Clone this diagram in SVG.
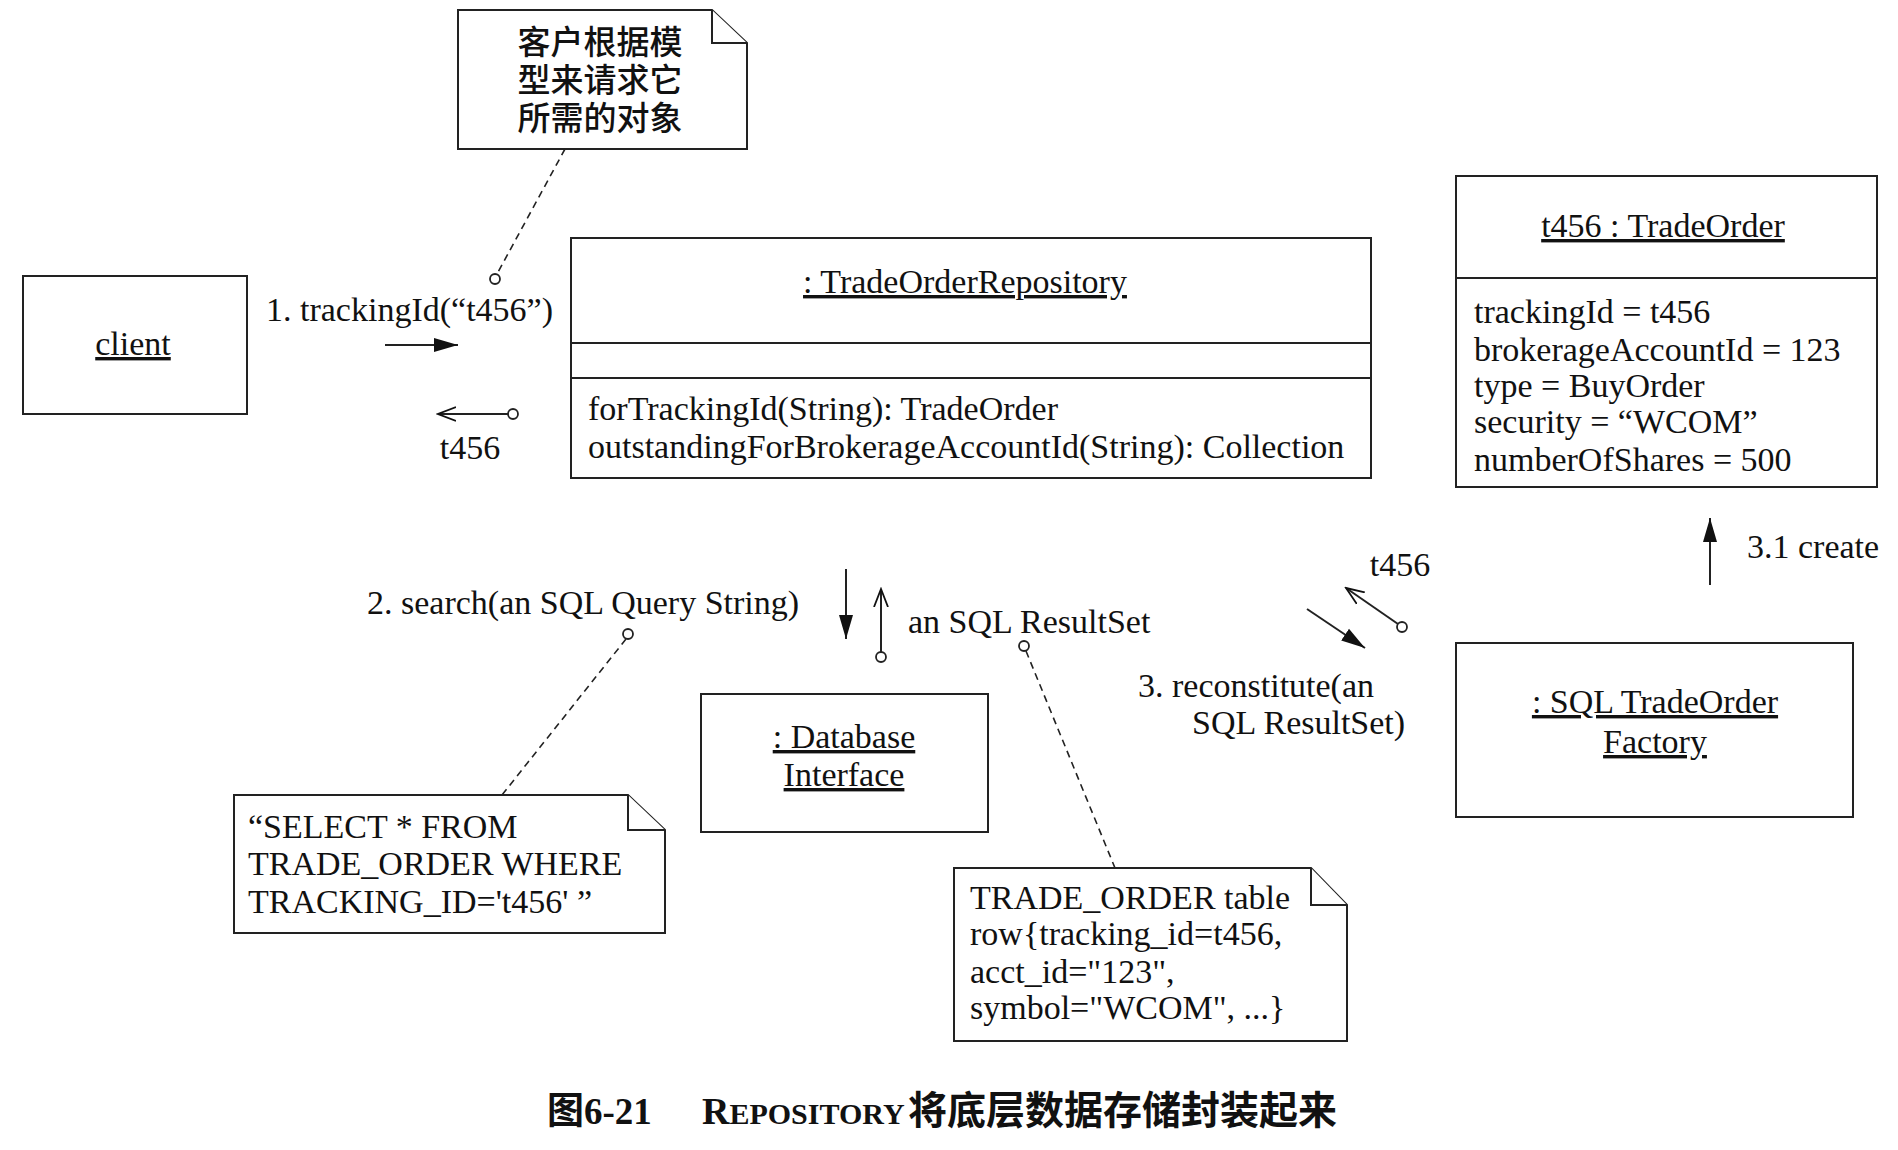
<svg xmlns="http://www.w3.org/2000/svg" width="1898" height="1150" viewBox="0 0 1898 1150">
<style>
 .box{fill:#fff;stroke:#222;stroke-width:2}
 .note{fill:#fff;stroke:#222;stroke-width:2;stroke-linejoin:miter}
 .t{font-family:"Liberation Serif","Noto Sans CJK SC",serif;font-size:34px;fill:#111}
 .c{text-anchor:middle}
 .u{text-decoration:underline}
 .cjk{font-family:"Noto Sans CJK SC",sans-serif;font-size:33px;font-weight:500;fill:#111;text-anchor:middle}
 .conn{stroke:#222;stroke-width:2;fill:none}
 .dash{stroke:#222;stroke-width:1.6;fill:none;stroke-dasharray:7 5}
 .pin{fill:#fff;stroke:#222;stroke-width:1.8}
 .cap{font-family:"Liberation Serif","Noto Sans CJK SC",serif;font-weight:bold;fill:#111}
</style>
<defs>
 <marker id="filled" markerUnits="userSpaceOnUse" markerWidth="26" markerHeight="18" refX="24" refY="9" orient="auto"><path d="M0,2 L24,9 L0,16 Z" fill="#111"/></marker>
 <marker id="open" markerUnits="userSpaceOnUse" markerWidth="20" markerHeight="18" refX="18" refY="9" orient="auto"><path d="M0,2 L18,9 L0,16" fill="none" stroke="#111" stroke-width="1.8"/></marker>
</defs>

<g id="note-client">
 <path class="note" d="M458,10 L712,10 L747,43 L747,149 L458,149 Z"/>
 <path class="note" d="M712,10 L712,43 L747,43" fill="none"/>
 <text class="cjk" x="600" y="54">客户根据模<tspan x="600" dy="38">型来请求它</tspan><tspan x="600" dy="38">所需的对象</tspan></text>
</g>

<g id="client">
 <rect class="box" x="23" y="276" width="224" height="138"/>
 <text class="t c u" x="133" y="355">client</text>
</g>

<g id="repository">
 <rect class="box" x="571" y="238" width="800" height="240"/>
 <line class="box" x1="571" y1="343" x2="1371" y2="343"/>
 <line class="box" x1="571" y1="378" x2="1371" y2="378"/>
 <text class="t c u" x="965" y="293">: TradeOrderRepository</text>
 <text class="t" x="588" y="420">forTrackingId(String): TradeOrder</text>
 <text class="t" x="588" y="458">outstandingForBrokerageAccountId(String): Collection</text>
</g>

<g id="tradeorder">
 <rect class="box" x="1456" y="176" width="421" height="311"/>
 <line class="box" x1="1456" y1="278" x2="1877" y2="278"/>
 <text class="t c u" x="1663" y="237">t456 : TradeOrder</text>
 <text class="t" x="1474" y="323">trackingId = t456</text>
 <text class="t" x="1474" y="361">brokerageAccountId = 123</text>
 <text class="t" x="1474" y="397">type = BuyOrder</text>
 <text class="t" x="1474" y="433">security = “WCOM”</text>
 <text class="t" x="1474" y="471">numberOfShares = 500</text>
</g>

<g id="factory">
 <rect class="box" x="1456" y="643" width="397" height="174"/>
 <text class="t c u" x="1655" y="713">: SQL TradeOrder </text>
 <text class="t c u" x="1655" y="753">Factory</text>
</g>

<g id="database">
 <rect class="box" x="701" y="694" width="287" height="138"/>
 <text class="t c u" x="844" y="748">: Database</text>
 <text class="t c u" x="844" y="786">Interface</text>
</g>

<g id="note-query">
 <path class="note" d="M234,795 L628,795 L665,830 L665,933 L234,933 Z"/>
 <path class="note" d="M628,795 L628,830 L665,830" fill="none"/>
 <text class="t" x="248" y="838">“SELECT * FROM</text>
 <text class="t" x="248" y="875">TRADE_ORDER WHERE</text>
 <text class="t" x="248" y="913">TRACKING_ID='t456' ”</text>
</g>

<g id="note-resultset">
 <path class="note" d="M954,868 L1311,868 L1347,905 L1347,1041 L954,1041 Z"/>
 <path class="note" d="M1311,868 L1311,905 L1347,905" fill="none"/>
 <text class="t" x="970" y="909">TRADE_ORDER table</text>
 <text class="t" x="970" y="945">row{tracking_id=t456,</text>
 <text class="t" x="970" y="983">acct_id="123",</text>
 <text class="t" x="970" y="1019">symbol="WCOM", ...}</text>
</g>

<g id="connectors">
 <line class="conn" x1="385" y1="345" x2="458" y2="345" marker-end="url(#filled)"/>
 <text class="t" x="266" y="321">1. trackingId(“t456”)</text>
 <line class="conn" x1="508" y1="414" x2="438" y2="414" marker-end="url(#open)"/>
 <circle class="pin" cx="513" cy="414" r="5"/>
 <text class="t c" x="470" y="459">t456</text>

 <line class="dash" x1="565" y1="149" x2="497" y2="274"/>
 <circle class="pin" cx="495" cy="279" r="5"/>

 <line class="conn" x1="846" y1="569" x2="846" y2="639" marker-end="url(#filled)"/>
 <text class="t" x="367" y="614">2. search(an SQL Query String)</text>
 <line class="conn" x1="881" y1="652" x2="881" y2="589" marker-end="url(#open)"/>
 <circle class="pin" cx="881" cy="657" r="5"/>
 <text class="t" x="908" y="633">an SQL ResultSet</text>

 <circle class="pin" cx="628" cy="634" r="5"/>
 <line class="dash" x1="626" y1="639" x2="502" y2="795"/>
 <circle class="pin" cx="1024" cy="646" r="5"/>
 <line class="dash" x1="1026" y1="651" x2="1115" y2="868"/>

 <line class="conn" x1="1307" y1="609" x2="1365" y2="648" marker-end="url(#filled)"/>
 <text class="t" x="1138" y="697">3. reconstitute(an</text>
 <text class="t" x="1192" y="734">SQL ResultSet)</text>
 <line class="conn" x1="1398" y1="624" x2="1346" y2="588" marker-end="url(#open)"/>
 <circle class="pin" cx="1402" cy="627" r="5"/>
 <text class="t c" x="1400" y="576">t456</text>

 <line class="conn" x1="1710" y1="585" x2="1710" y2="518" marker-end="url(#filled)"/>
 <text class="t" x="1747" y="558">3.1 create</text>
</g>

<g id="caption">
 <text class="cap" x="547" y="1124" font-size="37">图6-21</text>
 <text class="cap" x="702" y="1124" font-size="38">R<tspan font-size="30">EPOSITORY</tspan><tspan x="908" font-size="39">将底层数据存储封装起来</tspan></text>
</g>
</svg>
